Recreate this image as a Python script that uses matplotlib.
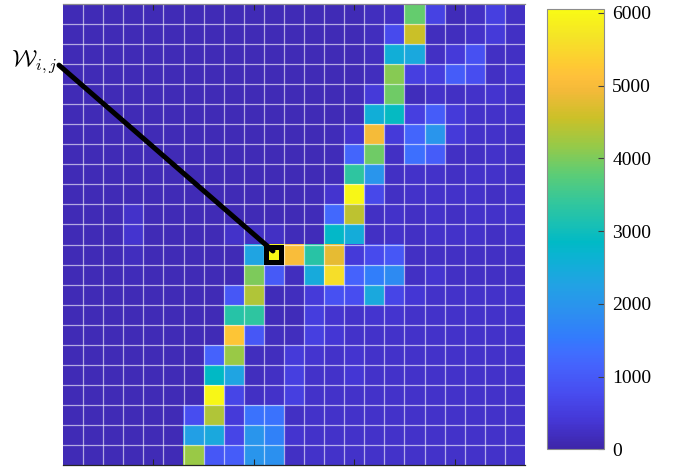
import numpy as np
import matplotlib
matplotlib.use("Agg")
import matplotlib.pyplot as plt
from matplotlib.colors import LinearSegmentedColormap
from matplotlib.patches import Rectangle

# --- data -------------------------------------------------------------
# weight matrix W (rows top to bottom, columns left to right)
weights = [
    [120,120,120,120,120,120,120,120,120,120,120,120,120,120,120,200,250,3850,600,150,250,550,250],
    [120,120,120,120,120,120,120,120,120,120,120,120,120,120,120,200,750,4550,200,200,300,450,250],
    [120,120,120,120,120,120,120,120,120,120,120,120,120,120,120,200,2550,2400,250,450,850,250,250],
    [120,120,120,120,120,120,120,120,120,120,120,120,120,120,120,200,4080,550,500,1050,800,250,350],
    [120,120,120,120,120,120,120,120,120,120,120,120,120,120,150,450,3900,180,300,250,300,350,250],
    [120,120,120,120,120,120,120,120,120,120,120,120,120,120,150,2550,2900,550,1050,450,300,300,300],
    [120,120,120,120,120,120,120,120,120,120,120,120,120,150,350,4980,450,1200,2000,450,300,300,250],
    [120,120,120,120,120,120,120,120,120,120,120,120,120,150,1200,3900,250,1350,1050,250,250,300,250],
    [120,120,120,120,120,120,120,120,120,120,120,120,120,150,3350,2000,250,300,300,250,300,300,250],
    [120,120,120,120,120,120,120,120,120,120,120,120,150,350,6000,700,250,300,300,300,300,250,300],
    [120,120,120,300,120,120,120,120,120,120,120,120,150,1250,4450,250,300,250,300,250,300,300,300],
    [120,120,120,350,120,120,120,120,300,250,250,150,150,2800,2500,250,300,250,300,300,300,250,300],
    [120,120,120,200,120,120,120,120,120,2300,6000,5050,3270,4800,450,750,950,250,250,250,250,250,250],
    [120,120,120,150,120,120,120,120,120,4000,1000,200,2450,5600,1150,1600,1800,250,350,250,250,250,250],
    [120,120,120,120,120,120,120,120,950,4350,150,200,450,850,800,2400,650,400,300,300,300,300,300],
    [120,120,120,120,120,120,120,120,3250,3350,150,150,500,350,300,350,350,300,300,300,300,300,300],
    [120,120,120,120,120,120,120,120,5200,950,200,200,550,400,300,300,300,300,300,300,300,300,300],
    [120,120,120,120,120,120,120,1150,4200,200,200,450,350,300,350,300,300,300,300,300,300,300,300],
    [120,120,120,120,120,120,120,2850,2300,200,250,550,300,300,400,300,300,300,300,300,300,300,300],
    [120,120,120,120,120,120,120,6000,650,250,300,550,300,300,300,300,300,300,300,300,300,300,300],
    [120,120,120,120,120,120,800,4350,450,1400,1400,250,300,300,300,300,300,300,300,300,300,300,300],
    [120,120,120,120,120,120,2200,2400,650,2000,1650,350,300,300,300,300,300,300,300,300,300,300,300],
    [120,120,120,120,120,120,4200,950,1050,2000,1900,250,300,300,300,300,300,300,300,300,300,300,300],
]
highlight_row, highlight_col = 12, 10       # the entry W_{i,j} called out
axis_ticks = [5, 10, 15, 20]
cbar_ticks = [0, 1000, 2000, 3000, 4000, 5000, 6000]
vmin, vmax = 0, 6050

# --- parula-like colormap ---------------------------------------------
parula_pts = [
    (0/255,   (0.2422, 0.1504, 0.6603)),
    (16/255,  (0.2704, 0.2138, 0.8346)),
    (32/255,  (0.2813, 0.2985, 0.9397)),
    (48/255,  (0.2710, 0.3860, 0.9898)),
    (56/255,  (0.2473, 0.4319, 0.9983)),
    (64/255,  (0.2006, 0.4803, 0.9906)),
    (80/255,  (0.1716, 0.5655, 0.9393)),
    (96/255,  (0.1288, 0.6408, 0.8910)),
    (112/255, (0.0433, 0.7039, 0.8242)),
    (120/255, (0.0018, 0.7275, 0.7752)),
    (128/255, (0.0770, 0.7468, 0.7224)),
    (144/255, (0.2061, 0.7808, 0.6065)),
    (160/255, (0.3671, 0.8021, 0.4563)),
    (176/255, (0.5886, 0.7913, 0.2833)),
    (192/255, (0.7945, 0.7554, 0.1570)),
    (208/255, (0.9523, 0.7284, 0.2237)),
    (216/255, (0.9971, 0.7513, 0.2309)),
    (224/255, (0.9938, 0.7974, 0.1974)),
    (240/255, (0.9601, 0.8963, 0.1507)),
    (255/255, (0.9769, 0.9839, 0.0805)),
]
parula = LinearSegmentedColormap.from_list("parula", parula_pts, N=256)

W = np.array(weights, dtype=float)
n_rows, n_cols = W.shape

plt.rcParams["mathtext.fontset"] = "cm"
fig = plt.figure(figsize=(6.76, 4.71), dpi=100)

# heatmap axes
ax = fig.add_axes([63/676, 6/471, 462/676, 461/471])
im = ax.imshow(W, cmap=parula, vmin=vmin, vmax=vmax, aspect="auto",
               interpolation="nearest",
               extent=[0.5, n_cols + 0.5, n_rows + 0.5, 0.5])

# white cell grid
for k in range(1, n_cols):
    ax.axvline(k + 0.5, color="white", lw=0.9, alpha=0.6)
for k in range(1, n_rows):
    ax.axhline(k + 0.5, color="white", lw=0.9, alpha=0.6)

ax.set_xlim(0.5, n_cols + 0.5)
ax.set_ylim(n_rows + 0.5, 0.5)
ax.set_xticks(axis_ticks)
ax.set_yticks([])
ax.tick_params(axis="x", which="both", direction="in", length=4, width=0.8,
               top=True, bottom=True, labelbottom=False, labeltop=False,
               color="#262626")
for side in ("left", "right"):
    ax.spines[side].set_visible(False)
ax.spines["top"].set_color("#8c8c8c")
ax.spines["bottom"].set_color("#262626")
for side in ("top", "bottom"):
    ax.spines[side].set_linewidth(0.9)

# highlighted entry: black frame plus a leader line to the label
cx, cy = highlight_col + 1, highlight_row + 1
inset = 0.13
ax.add_patch(Rectangle((cx - 0.5 + inset, cy - 0.5 + inset), 1 - 2*inset, 1 - 2*inset,
                       fill=False, ec="black", lw=3.6, zorder=5))
ax.plot([0.30, cx - 0.05], [3.55, cy - 0.18], color="black", lw=3.6,
        solid_capstyle="round", clip_on=False, zorder=6)
fig.text(57/676, 1 - 66/471, r"$\mathcal{W}_{i,j}$", ha="right", va="baseline",
         fontsize=17, color="black")

# colorbar
cax = fig.add_axes([547/676, (471 - 449.3)/471, 57/676, 440/471])
cb = fig.colorbar(im, cax=cax, ticks=cbar_ticks)
cb.outline.set_edgecolor("#8c8c8c")
cb.outline.set_linewidth(0.8)
cax.tick_params(direction="in", length=4, width=0.8, color="#404040", pad=6)
for lab in cax.get_yticklabels():
    lab.set_fontfamily("Liberation Serif")
    lab.set_fontsize(14)

fig.savefig("out.png", dpi=100)
